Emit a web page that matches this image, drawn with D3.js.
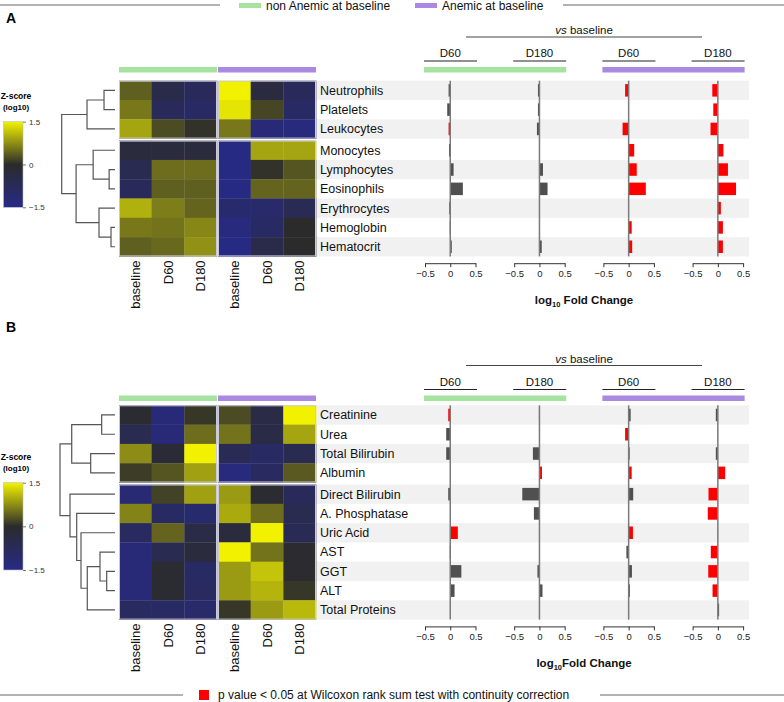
<!DOCTYPE html>
<html><head><meta charset="utf-8">
<script src="https://cdn.jsdelivr.net/npm/d3@7"></script>
<style>body{margin:0;background:#fff}svg{display:block;font-family:"Liberation Sans",Arial,Helvetica,sans-serif}</style>
</head><body><svg id="c" width="784" height="702"></svg>
<script>
// ---------------- DATA ----------------
const groups = ["non Anemic at baseline", "Anemic at baseline"];
const timepoints = ["baseline", "D60", "D180"];
const comparisons = ["D60", "D180", "D60", "D180"];
const fcTicks = [-0.5, 0, 0.5];
const zTicks = [1.5, 0, -1.5];
const sigLabel = "p value < 0.05 at Wilcoxon rank sum test with continuity correction";

// Panel A
const rowsA = ["Neutrophils","Platelets","Leukocytes","Monocytes","Lymphocytes","Eosinophils","Erythrocytes","Hemoglobin","Hematocrit"];
// z-scores: nonA baseline, D60, D180, A baseline, D60, D180
const heatA = [
  [0.39, -0.53, -0.77, 1.5, -0.36, -0.77],
  [0.58, -0.77, -0.94, 1.4, 0.2, -0.94],
  [0.92, 0.24, 0.05, 0.58, -1.27, -1.35],
  [-0.28, -0.28, -0.28, -1.43, 0.92, 0.92],
  [-0.61, 0.5, 0.5, -1.43, 0.05, 0.32],
  [-0.77, 0.39, 0.39, -1.43, 0.43, 0.43],
  [1.0, 0.62, 0.43, -1.1, -1.02, -0.69],
  [0.58, 0.54, 0.69, -1.35, -0.94, 0.0],
  [0.39, 0.47, 0.77, -1.43, -0.53, 0.0]
];
// log10 fold change per comparison (nonA D60, nonA D180, A D60, A D180)
const fcA = [
  [-0.033, -0.06, -0.033, -0.025, 0.066, 0.25, -0.02, -0.01, 0.03],
  [-0.03, -0.03, -0.05, -0.005, 0.07, 0.16, -0.005, -0.005, 0.045],
  [-0.07, -0.005, -0.12, 0.11, 0.16, 0.34, 0.005, 0.06, 0.07],
  [-0.11, -0.09, -0.145, 0.11, 0.2, 0.36, 0.06, 0.1, 0.1]
];
const sigA = [
  [0,0,1,0,0,0,0,0,0],
  [0,0,0,0,0,0,0,0,0],
  [1,0,1,1,1,1,0,1,1],
  [1,1,1,1,1,1,1,1,1]
];
// dendrogram: [left, right, distance]
const treeA = [
  [["Neutrophils","Platelets",0.206],"Leukocytes",0.525],
  [["Monocytes",["Lymphocytes","Eosinophils",0.11],0.41],
   ["Erythrocytes",["Hemoglobin","Hematocrit",0.075],0.30],0.73],
  1.0];

// Panel B
const rowsB = ["Creatinine","Urea","Total Bilirubin","Albumin","Direct Bilirubin","A. Phosphatase","Uric Acid","AST","GGT","ALT","Total Proteins"];
const heatB = [
  [-0.12, -1.27, 0.09, 0.24, -0.45, 1.5],
  [-0.61, -1.27, 0.5, 0.54, -0.45, 0.92],
  [0.73, -0.2, 1.5, -0.69, -0.94, -0.61],
  [0.13, 0.32, 0.88, -1.35, -0.86, 0.35],
  [-1.19, 0.17, 0.88, 0.84, -0.12, -0.77],
  [0.66, -0.94, -1.1, 0.96, 0.5, -0.61],
  [-0.86, 0.43, -0.45, -0.28, 1.5, -0.69],
  [-1.27, -0.61, -0.28, 1.5, 0.54, -0.08],
  [-1.27, -0.12, -0.94, 0.84, 1.15, -0.08],
  [-1.27, -0.12, -0.86, 0.84, 1.03, 0.09],
  [-0.86, -0.94, -1.02, 0.09, 0.84, 1.07]
];
const fcB = [
  [-0.04, -0.08, -0.08, 0.004, -0.04, 0.004, 0.15, -0.01, 0.22, 0.085, 0.003],
  [-0.01, 0.004, -0.13, 0.05, -0.34, -0.11, 0.004, 0.003, -0.04, 0.06, 0.003],
  [0.04, -0.07, 0.02, 0.06, 0.09, 0.004, 0.085, -0.045, 0.065, 0.025, 0.004],
  [-0.04, -0.005, -0.04, 0.145, -0.185, -0.2, 0.004, -0.14, -0.19, -0.105, 0.025]
];
const sigB = [
  [1,0,0,0,0,0,1,0,0,0,0],
  [0,0,0,1,0,0,0,0,0,0,0],
  [0,1,0,1,0,0,1,0,0,0,0],
  [0,0,0,1,1,1,0,1,1,1,0]
];
const treeB = [
  [["Creatinine","Urea",0.242],["Total Bilirubin","Albumin",0.442],0.787],
  ["Direct Bilirubin",["A. Phosphatase",["Uric Acid",[["AST",["GGT","ALT",0.151],0.273],"Total Proteins",0.504],0.618],0.696],0.818],
  1.0];

// ---------------- STYLE / LAYOUT ----------------
const FONT = '"Liberation Sans",Arial,Helvetica,sans-serif';
const groupColors = ["#a6e3a1", "#a98ae0"];
const barGray = "#505050", barRed = "#ff0000";
const heatColor = d3.scaleLinear().domain([-1.5, 0, 1.5]).range(["#272a86", "#2b2b2b", "#f2f200"]).clamp(true);
const svg = d3.select("#c");

// colour gradient
const defs = svg.append("defs");
const grad = defs.append("linearGradient").attr("id", "zgrad").attr("x1", 0).attr("x2", 0).attr("y1", 1).attr("y2", 0);
d3.range(0, 1.0001, 0.1).forEach(t => grad.append("stop").attr("offset", t).attr("stop-color", heatColor(-1.5 + 3 * t)));

// top legend
svg.append("line").attr("x1", 0).attr("x2", 220).attr("y1", 5).attr("y2", 5).attr("stroke", "#666").attr("stroke-width", 1);
svg.append("line").attr("x1", 563).attr("x2", 784).attr("y1", 5).attr("y2", 5).attr("stroke", "#666").attr("stroke-width", 1);
const legX = [239, 415];
groups.forEach((g, i) => {
  svg.append("rect").attr("x", legX[i]).attr("y", 3).attr("width", 22).attr("height", 5).attr("fill", groupColors[i]);
  svg.append("text").attr("x", legX[i] + 27).attr("y", 10).attr("font-size", 12).attr("fill", "#111").text(g);
});

// bottom legend
svg.append("line").attr("x1", 0).attr("x2", 183).attr("y1", 695).attr("y2", 695).attr("stroke", "#666");
svg.append("line").attr("x1", 600).attr("x2", 784).attr("y1", 695).attr("y2", 695).attr("stroke", "#666");
svg.append("rect").attr("x", 199).attr("y", 690).attr("width", 10).attr("height", 10).attr("fill", barRed);
svg.append("text").attr("x", 218).attr("y", 699).attr("font-size", 12).attr("fill", "#111").text(sigLabel);

function drawPanel(cfg) {
  const g = svg.append("g");
  const rh = 19.3, gap = 2;
  const n = cfg.rows.length;
  const yBand = d3.scaleBand().domain(cfg.rows).range([cfg.top, cfg.top + n * rh]).paddingInner(0);
  const y = r => yBand(r) + (cfg.rows.indexOf(r) >= cfg.split ? gap : 0);
  const bottom = cfg.top + n * rh + gap;
  const gScale = d3.scaleBand().domain(groups).range([119, 316]).paddingInner(0.0101);
  const cScale = d3.scaleBand().domain(timepoints).range([0, gScale.bandwidth()]);

  // letter
  g.append("text").attr("x", 6).attr("y", cfg.letterY).attr("font-size", 14).attr("font-weight", "bold").text(cfg.letter);

  // row stripes
  cfg.rows.forEach((r, i) => {
    if (i % 2 === 0) g.append("rect").attr("x", 316).attr("y", y(r)).attr("width", 749 - 316).attr("height", rh).attr("fill", "#f1f1f1");
  });

  // heatmap
  cfg.rows.forEach((r, i) => {
    cfg.heat[i].forEach((v, j) => {
      const grp = groups[Math.floor(j / 3)], tp = timepoints[j % 3];
      g.append("rect").attr("x", gScale(grp) + cScale(tp)).attr("y", y(r))
        .attr("width", cScale.bandwidth() + 0.3).attr("height", rh + 0.3).attr("fill", heatColor(v));
    });
  });
  // block borders
  groups.forEach(grp => {
    [[0, cfg.split], [cfg.split, n]].forEach(([a, b]) => {
      g.append("rect").attr("x", gScale(grp) + 0.5).attr("y", y(cfg.rows[a]) + 0.5)
        .attr("width", gScale.bandwidth() - 1).attr("height", (b - a) * rh - 1)
        .attr("fill", "none").attr("stroke", "#c9c9d9").attr("stroke-width", 1);
    });
    g.append("rect").attr("x", gScale(grp)).attr("y", cfg.hdr + 67).attr("width", gScale.bandwidth()).attr("height", 5.5)
      .attr("fill", groupColors[groups.indexOf(grp)]);
  });

  // row labels
  cfg.rows.forEach(r => {
    g.append("text").attr("x", 320).attr("y", y(r) + rh / 2).attr("dy", "0.35em").attr("font-size", 12.5).attr("fill", "#111").text(r);
  });
  // column labels
  groups.forEach(grp => timepoints.forEach(tp => {
    const cx = gScale(grp) + cScale(tp) + cScale.bandwidth() / 2;
    g.append("text").attr("transform", `translate(${cx},${bottom + 4}) rotate(-90)`).attr("text-anchor", "end")
      .attr("dy", "0.36em").attr("font-size", 13).attr("fill", "#111").text(tp);
  }));

  // dendrogram
  const xd = d3.scaleLinear().domain([0, 1]).range([115, cfg.rootX]);
  function walk(node) {
    if (typeof node === "string") return { y: y(node) + rh / 2, x: xd(0) };
    const a = walk(node[0]), b = walk(node[1]);
    const x = xd(node[2]);
    const path = d3.path();
    path.moveTo(a.x, a.y); path.lineTo(x, a.y); path.lineTo(x, b.y); path.lineTo(b.x, b.y);
    g.append("path").attr("d", path.toString()).attr("fill", "none").attr("stroke", "#555").attr("stroke-width", 1.2);
    return { y: (a.y + b.y) / 2, x: x };
  }
  walk(cfg.tree);

  // colour bar
  g.append("text").attr("x", 16).attr("y", cfg.zY).attr("text-anchor", "middle").attr("font-size", 8.5).attr("font-weight", "bold").text("Z-score");
  g.append("text").attr("x", 16).attr("y", cfg.zY + 11).attr("text-anchor", "middle").attr("font-size", 8).attr("font-weight", "bold").text("(log10)");
  g.append("rect").attr("x", 3.5).attr("y", cfg.cbTop).attr("width", 19.5).attr("height", cfg.cbH).attr("fill", "url(#zgrad)")
    .attr("stroke", "#bbb").attr("stroke-width", 0.6);
  const zs = d3.scaleLinear().domain([-1.5, 1.5]).range([cfg.cbTop + cfg.cbH, cfg.cbTop]);
  const za = d3.axisRight(zs).tickValues(zTicks).tickSize(3).tickFormat(d3.format(".1~f"));
  const zg = g.append("g").attr("transform", `translate(23,0)`).call(za);
  zg.select(".domain").remove();
  zg.selectAll("line").attr("stroke", "#777");
  zg.selectAll("text").attr("font-size", 8).attr("font-family", FONT).attr("fill", "#333");

  // bar panels
  const x0s = [425, 514.2, 603.4, 692.6];
  const xs = x0s.map(x0 => d3.scaleLinear().domain([-0.5, 0.5]).range([x0, x0 + 50.5]));
  const axisY = bottom + 6.8;
  xs.forEach((x, k) => {
    // header
    g.append("text").attr("x", x(0)).attr("y", cfg.hdr + 57).attr("text-anchor", "middle").attr("font-size", 11.5).attr("fill", "#111").text(comparisons[k]);
    g.append("line").attr("x1", x(-0.52)).attr("x2", x(0.53)).attr("y1", cfg.hdr + 61).attr("y2", cfg.hdr + 61).attr("stroke", "#222").attr("stroke-width", 1);
    // bars
    cfg.rows.forEach((r, i) => {
      const v = cfg.fc[k][i];
      g.append("rect").attr("x", x(Math.min(0, v))).attr("y", y(r) + (rh - 12.5) / 2)
        .attr("width", Math.abs(x(v) - x(0))).attr("height", 12.5)
        .attr("fill", cfg.sig[k][i] ? barRed : barGray);
    });
    g.append("line").attr("x1", x(0)).attr("x2", x(0)).attr("y1", cfg.top).attr("y2", bottom).attr("stroke", "#7a7a7a").attr("stroke-width", 1.5);
    const ax = d3.axisBottom(x).tickValues(fcTicks).tickSize(4).tickSizeOuter(0).tickFormat(d3.format(".1~f"));
    const ag = g.append("g").attr("transform", `translate(0,${axisY})`).call(ax);
    ag.select(".domain").attr("stroke", "#333");
    ag.selectAll("line").attr("stroke", "#333");
    ag.selectAll("text").attr("font-size", 9.5).attr("font-family", FONT).attr("fill", "#222");
  });
  // group bars over bar panels
  g.append("rect").attr("x", xs[0](-0.52)).attr("y", cfg.hdr + 67).attr("width", xs[1](0.53) - xs[0](-0.52)).attr("height", 5.5).attr("fill", groupColors[0]);
  g.append("rect").attr("x", xs[2](-0.52)).attr("y", cfg.hdr + 67).attr("width", xs[3](0.53) - xs[2](-0.52)).attr("height", 5.5).attr("fill", groupColors[1]);
  // vs baseline
  const midX = (xs[1](0.5) + xs[2](-0.5)) / 2;
  g.append("line").attr("x1", midX - 118).attr("x2", midX + 118).attr("y1", cfg.hdr + 37).attr("y2", cfg.hdr + 37).attr("stroke", "#444").attr("stroke-width", 1);
  const vt = g.append("text").attr("x", midX).attr("y", cfg.hdr + 34).attr("text-anchor", "middle").attr("font-size", 11.5).attr("fill", "#111");
  vt.append("tspan").attr("font-style", "italic").text("vs");
  vt.append("tspan").text(" baseline");
  // title
  const tt = g.append("text").attr("x", midX).attr("y", axisY + 41).attr("text-anchor", "middle").attr("font-size", 11.5).attr("font-weight", "bold").attr("fill", "#111");
  tt.append("tspan").text("log");
  tt.append("tspan").attr("font-size", 7.5).attr("dy", 2.5).text("10");
  tt.append("tspan").attr("dy", -2.5).text(cfg.titleSep + "Fold Change");
}

drawPanel({ letter: "A", letterY: 23, hdr: 0, top: 80.7, split: 3, rows: rowsA, heat: heatA, fc: fcA, sig: sigA, tree: treeA,
  rootX: 61.7, cbTop: 121.7, cbH: 85.6, zY: 99, titleSep: " " });
drawPanel({ letter: "B", letterY: 332, hdr: 328.5, top: 405.3, split: 4, rows: rowsB, heat: heatB, fc: fcB, sig: sigB, tree: treeB,
  rootX: 60, cbTop: 482.7, cbH: 87.3, zY: 459.5, titleSep: "" });
</script>
</body></html>
